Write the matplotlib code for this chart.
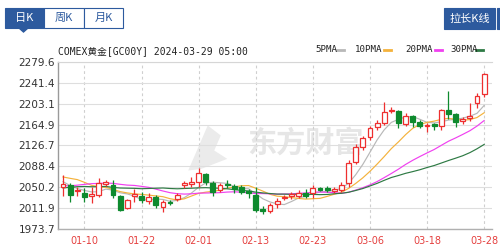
import matplotlib
matplotlib.use("Agg")
import matplotlib.pyplot as plt
from matplotlib.patches import Rectangle, Polygon
import numpy as np
import pandas as pd

# ---------------- data ----------------
dates = ["01-05","01-08","01-09","01-10","01-11","01-12","01-15","01-16","01-17","01-18",
         "01-19","01-22","01-23","01-24","01-25","01-26","01-29","01-30","01-31","02-01",
         "02-02","02-05","02-06","02-07","02-08","02-09","02-12","02-13","02-14","02-15",
         "02-16","02-19","02-20","02-21","02-22","02-23","02-26","02-27","02-28","02-29",
         "03-01","03-04","03-05","03-06","03-07","03-08","03-11","03-12","03-13","03-14",
         "03-15","03-18","03-19","03-20","03-21","03-22","03-25","03-26","03-27","03-28"]
opens = [2050,2054,2043,2040,2034,2036,2056,2055,2034,2013,2035,2035,2025,2032,2014,2024,2029,2054,2057,2060,
         2075,2058,2046,2057,2052,2050,2044,2036,2011,2007,2019,2031,2034,2035,2039,2040,2049,2048,2044,2046,
         2058,2097,2124,2142,2160,2168,2190,2190,2166,2180,2170,2162,2166,2163,2191,2184,2171,2177,2204,2221]
highs = [2072,2058,2051,2049,2050,2067,2063,2064,2036,2029,2047,2041,2040,2036,2027,2027,2040,2062,2069,2085,
         2077,2062,2058,2063,2056,2054,2047,2051,2016,2022,2030,2036,2042,2045,2047,2054,2051,2053,2051,2060,
         2101,2129,2144,2162,2173,2206,2197,2192,2186,2183,2173,2168,2168,2193,2227,2187,2179,2204,2222,2259]
lows = [2035,2024,2034,2024,2022,2033,2053,2031,2006,2011,2024,2022,2020,2013,2005,2018,2025,2049,2051,2051,
        2055,2034,2042,2049,2040,2038,2031,2005,2001,2003,2013,2027,2029,2031,2031,2031,2044,2042,2040,2042,
        2051,2093,2118,2137,2155,2164,2186,2159,2162,2160,2159,2151,2155,2155,2176,2160,2166,2172,2196,2215]
closes = [2056,2036,2046,2033,2037,2058,2060,2036,2009,2027,2038,2027,2033,2018,2023,2021,2036,2058,2060,2076,
          2060,2042,2054,2054,2047,2042,2040,2009,2007,2018,2025,2033,2037,2039,2035,2049,2046,2045,2047,2054,
          2095,2124,2140,2158,2167,2188,2192,2168,2180,2170,2163,2164,2163,2191,2185,2170,2175,2180,2218,2257]
# sessions before the first visible candle (needed for the moving averages)
prior_closes = [1999,2012,2020,2052,2056,2047,2089,2042,2036,2048,2046,2020,2005,2010,2048,2052,2042,2045,
                2056,2050,2061,2069,2083,2092,2083,2072,2073,2050,2051]
ma_periods = [5, 10, 20, 30]
ma_labels = ["5PMA", "10PMA", "20PMA", "30PMA"]
ma_colors = ["#b8b8b8", "#f4b23c", "#f040f0", "#2e7a44"]
ytick_vals = [1973.7, 2011.9, 2050.2, 2088.4, 2126.7, 2164.9, 2203.1, 2241.4, 2279.6]
ytick_labels = ["1973.7", "2011.9", "2050.2", "2088.4", "2126.7", "2164.9", "2203.1", "2241.4", "2279.6"]
xtick_labels = ["01-10", "01-22", "02-01", "02-13", "02-23", "03-06", "03-18", "03-28"]
title_text = "COMEX黄金[GC00Y] 2024-03-29 05:00"
tabs = ["日K", "周K", "月K"]
button_text = "拉长K线"

RED = "#ee2f2f"
GREEN = "#0e8a2e"
BLUE = "#2d5a9e"
CJK = ["Noto Sans CJK SC", "DejaVu Sans"]
MONO = ["DejaVu Sans Mono", "Noto Sans CJK SC"]

W, H = 500, 247
fig = plt.figure(figsize=(W / 100, H / 100), dpi=100)
fig.patch.set_facecolor("white")

def fx(x):
    return x / W

def fy(y):
    return 1 - y / H

ax = fig.add_axes([fx(58), fy(229), (492 - 58) / W, (229 - 62) / H])

n = len(closes)
xs = np.arange(n)
o = np.array(opens, float)
c = np.array(closes, float)
h = np.array(highs, float)
l = np.array(lows, float)
up = c >= o

# watermark
ax.text(0.57, 0.52, "东方财富", transform=ax.transAxes, fontsize=21, fontweight="bold",
        color="#e6e6e6", ha="center", va="center", family=CJK, zorder=0.1)
logo = Polygon([[0.30, 0.35], [0.345, 0.62], [0.375, 0.56], [0.36, 0.47], [0.39, 0.42], [0.33, 0.36]],
               closed=True, transform=ax.transAxes, facecolor="#ebebeb", edgecolor="none", zorder=0.1)
ax.add_patch(logo)

# wicks
cols = [RED if u else GREEN for u in up]
ax.vlines(xs, l, h, colors=cols, linewidth=0.9, zorder=3)
# bodies
bot = np.minimum(o, c)
hei = np.maximum(np.abs(c - o), 0.6)
ax.bar(xs[up], hei[up], bottom=bot[up], width=0.68, facecolor="white",
       edgecolor=RED, linewidth=0.9, zorder=4)
ax.bar(xs[~up], hei[~up], bottom=bot[~up], width=0.68, facecolor=GREEN,
       edgecolor=GREEN, linewidth=0.9, zorder=4)

# moving averages
allc = pd.Series(prior_closes + closes, dtype=float)
for p, col in zip(ma_periods, ma_colors):
    ma = allc.rolling(p).mean().iloc[len(prior_closes):].to_numpy()
    ax.plot(xs, ma, color=col, linewidth=0.85, zorder=2.5)

ax.set_xlim(-0.7, n - 1 + 1.1)
ax.set_ylim(ytick_vals[0], ytick_vals[-1])
ax.set_yticks(ytick_vals)
ax.set_yticklabels(ytick_labels)
tick_pos = [dates.index(t) for t in xtick_labels]
ax.set_xticks(tick_pos)
ax.set_xticklabels(xtick_labels)
ax.tick_params(axis="y", length=0, pad=2, labelsize=7.6, labelcolor="#333333")
ax.tick_params(axis="x", length=0, pad=5, labelsize=7.0, labelcolor="#e5403f")
ax.grid(axis="y", color="#dedede", linewidth=0.8, zorder=0.5)
ax.grid(axis="x", color="#cfcfcf", linewidth=0.8, linestyle=(0, (2.5, 2.5)), zorder=0.5)
ax.spines["right"].set_visible(False)
ax.spines["top"].set_color("#d6d6d6")
ax.spines["left"].set_color("#9a9a9a")
ax.spines["bottom"].set_color("#b0b0b0")
ax.spines["left"].set_linewidth(1.0)
ax.spines["bottom"].set_linewidth(1.0)

# ---------------- header UI ----------------
def rect(x0, y0, x1, y1, fc, ec, lw=0.8):
    r = Rectangle((fx(x0), fy(y1)), fx(x1) - fx(x0), fy(y0) - fy(y1), transform=fig.transFigure,
                  facecolor=fc, edgecolor=ec, linewidth=lw)
    fig.add_artist(r)

tab_x = [(5, 44), (44, 84), (84, 123)]
for i, (t, (a, b)) in enumerate(zip(tabs, tab_x)):
    sel = i == 0
    rect(a, 8, b, 28, BLUE if sel else "white", BLUE)
    fig.text(fx((a + b) / 2), fy(18), t, fontsize=8, family=CJK, ha="center", va="center",
             color="white" if sel else BLUE)
tri = Polygon([[fx(19), fy(28)], [fx(28), fy(28)], [fx(23.5), fy(32)]], closed=True,
              transform=fig.transFigure, facecolor=BLUE, edgecolor=BLUE)
fig.add_artist(tri)

rect(444, 8, 495, 29, BLUE, BLUE)
fig.text(fx(469.5), fy(18.5), button_text, fontsize=8, family=CJK, ha="center", va="center", color="white")
rect(497, 8, 505, 29, BLUE, BLUE)

fig.text(fx(58), fy(51), title_text, fontsize=7, family=MONO, ha="left", va="center", color="#222222")

leg_x = [(315, 337), (355, 384), (405, 435), (450, 476)]
for lab, col, (tx, dx) in zip(ma_labels, ma_colors, leg_x):
    fig.text(fx(tx), fy(50), lab, fontsize=6.6, family=MONO, ha="left", va="center", color="#222222")
    fig.add_artist(plt.Line2D([fx(dx), fx(dx + 7)], [fy(49.5), fy(49.5)], transform=fig.transFigure,
                              color=col, linewidth=2.0))

fig.savefig("out.png", dpi=100, facecolor="white")
